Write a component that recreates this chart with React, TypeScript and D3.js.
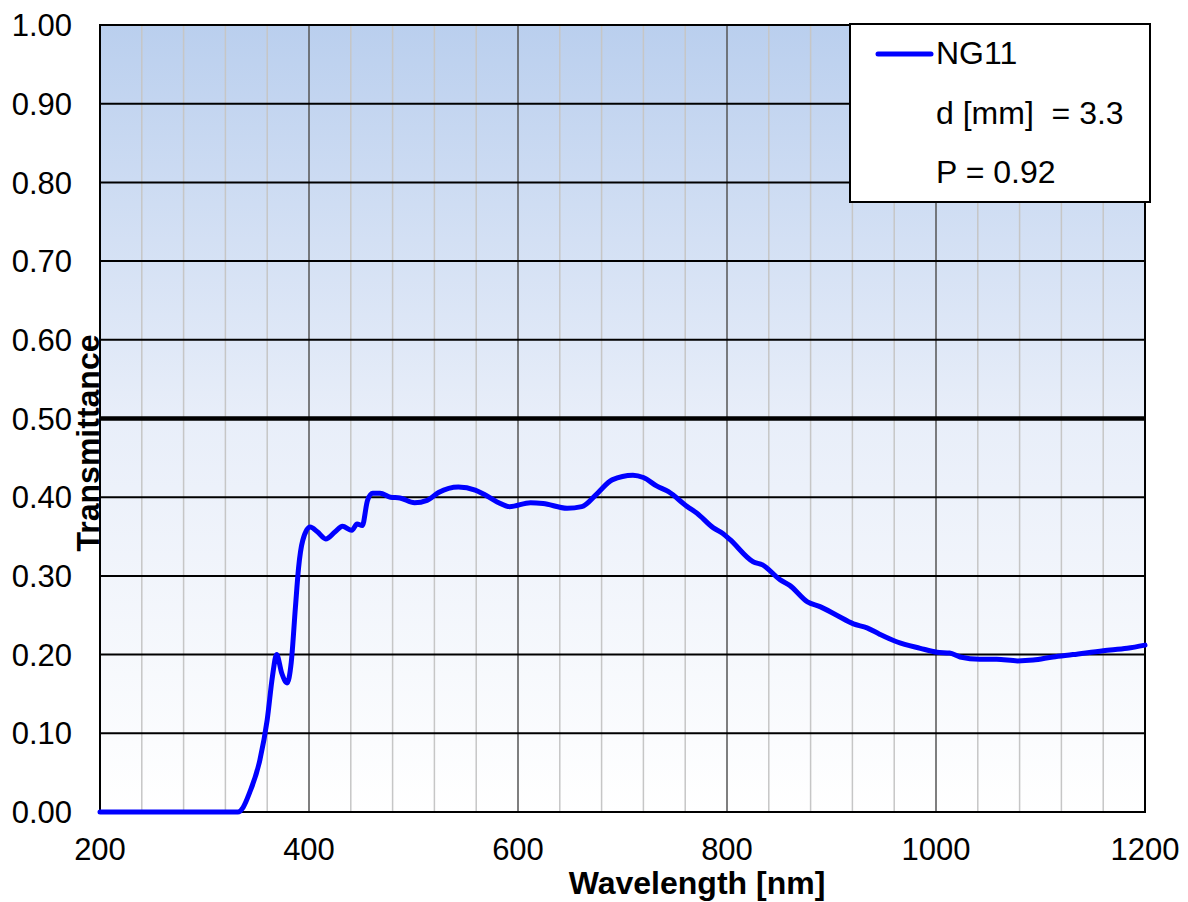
import * as React from "react";
import * as d3 from "d3";

// spectral transmittance
const wavelengths = [
  200, 332, 337, 343, 353, 360, 365, 369, 374, 379, 383, 387, 390, 394, 401,
  408, 416, 425, 432, 441, 446, 451, 456, 461, 468, 478, 487, 501, 513, 524,
  543, 559, 567, 580, 592, 612, 624, 647, 661, 676, 690, 710, 720, 733, 744,
  762, 771, 787, 796, 803, 825, 834, 851, 860, 877, 889, 905, 921, 934, 946,
  963, 985, 1001, 1013, 1023, 1042, 1058, 1078, 1093, 1112, 1131, 1160, 1183,
  1200,
];
const transmittance = [
  0, 0, 0.006, 0.024, 0.066, 0.117, 0.172, 0.2, 0.176, 0.164, 0.19, 0.26, 0.31,
  0.345, 0.362, 0.356, 0.347, 0.356, 0.363, 0.358, 0.366, 0.364, 0.396, 0.405,
  0.405, 0.4, 0.399, 0.393, 0.396, 0.406, 0.413, 0.409, 0.404, 0.394, 0.388,
  0.393, 0.392, 0.386, 0.388, 0.405, 0.422, 0.428, 0.425, 0.414, 0.407, 0.388,
  0.38, 0.361, 0.354, 0.346, 0.318, 0.314, 0.295, 0.288, 0.267, 0.261, 0.25,
  0.239, 0.234, 0.226, 0.216, 0.208, 0.203, 0.202, 0.197, 0.194, 0.194, 0.192,
  0.193, 0.197, 0.2, 0.205, 0.208, 0.212,
];

const xTicks = [200, 400, 600, 800, 1000, 1200];
const yTicks = [0, 0.1, 0.2, 0.3, 0.4, 0.5, 0.6, 0.7, 0.8, 0.9, 1.0];
const legendLines = ["NG11", "d [mm]  = 3.3", "P = 0.92"];

const W = 1188;
const H = 902;
const font = "'Liberation Sans', Arial, sans-serif";

export default function App() {
  const left = 100;
  const right = 1145;
  const top = 25;
  const bottom = 812;

  const x = d3.scaleLinear().domain([200, 1200]).range([left, right]);
  const y = d3.scaleLinear().domain([0, 1]).range([bottom, top]);

  // minor gridlines every 40 nm, major every 200 nm
  const minor = d3.range(240, 1200, 40).filter(v => v % 200 !== 0);
  const pts: [number, number][] = wavelengths.map((w, i) => [w, transmittance[i]]);
  const path = d3
    .line<[number, number]>()
    .x(d => x(d[0]))
    .y(d => y(d[1]))
    .curve(d3.curveMonotoneX)(pts) as string;

  return (
    <div style={{ position: "absolute", left: 0, top: 0 }}>
      <svg width={W} height={H} style={{ display: "block", background: "#fff" }}>
        <defs>
          <linearGradient id="bg" x1="0" y1="0" x2="0" y2="1">
            <stop offset="0" stopColor="#bacfee" />
            <stop offset="0.5" stopColor="#e8eef9" />
            <stop offset="1" stopColor="#ffffff" />
          </linearGradient>
        </defs>
        <rect x={left} y={top} width={right - left} height={bottom - top} fill="url(#bg)" />

        {minor.map(v => (
          <line key={"m" + v} x1={x(v)} x2={x(v)} y1={top} y2={bottom} stroke="#c6c6c6" strokeWidth={1.5} />
        ))}
        {xTicks.slice(1, -1).map(v => (
          <line key={"M" + v} x1={x(v)} x2={x(v)} y1={top} y2={bottom} stroke="#555" strokeWidth={1.5} />
        ))}
        {yTicks.map(v => (
          <line
            key={"h" + v}
            x1={left}
            x2={right}
            y1={y(v)}
            y2={y(v)}
            stroke="#000"
            strokeWidth={Math.abs(v - 0.5) < 1e-9 ? 4.5 : 2}
          />
        ))}
        <rect x={left} y={top} width={right - left} height={bottom - top} fill="none" stroke="#000" strokeWidth={2} />

        <path d={path} fill="none" stroke="#0000ff" strokeWidth={5} strokeLinejoin="round" strokeLinecap="round" />

        {yTicks.map(v => (
          <text
            key={"yl" + v}
            x={72}
            y={y(v)}
            dy="0.36em"
            textAnchor="end"
            fontFamily={font}
            fontSize={31}
            fill="#000"
          >
            {v.toFixed(2)}
          </text>
        ))}
        {xTicks.map(v => (
          <text key={"xl" + v} x={x(v)} y={860} textAnchor="middle" fontFamily={font} fontSize={31} fill="#000">
            {v}
          </text>
        ))}

        <text x={697} y={894} textAnchor="middle" fontFamily={font} fontSize={32} fontWeight="bold">
          Wavelength [nm]
        </text>
        <text
          transform={`translate(99,443) rotate(-90)`}
          textAnchor="middle"
          fontFamily={font}
          fontSize={32}
          fontWeight="bold"
        >
          Transmittance
        </text>

        <g>
          <rect x={850} y={24} width={300} height={178} fill="#fff" stroke="#000" strokeWidth={2} />
          <line x1={878} x2={931} y1={54} y2={54} stroke="#0000ff" strokeWidth={5} strokeLinecap="round" />
          {legendLines.map((t, i) => (
            <text key={t} x={936} y={64 + i * 59.5} fontFamily={font} fontSize={32} fill="#000" style={{ whiteSpace: "pre" }}>
              {t}
            </text>
          ))}
        </g>
      </svg>
    </div>
  );
}
